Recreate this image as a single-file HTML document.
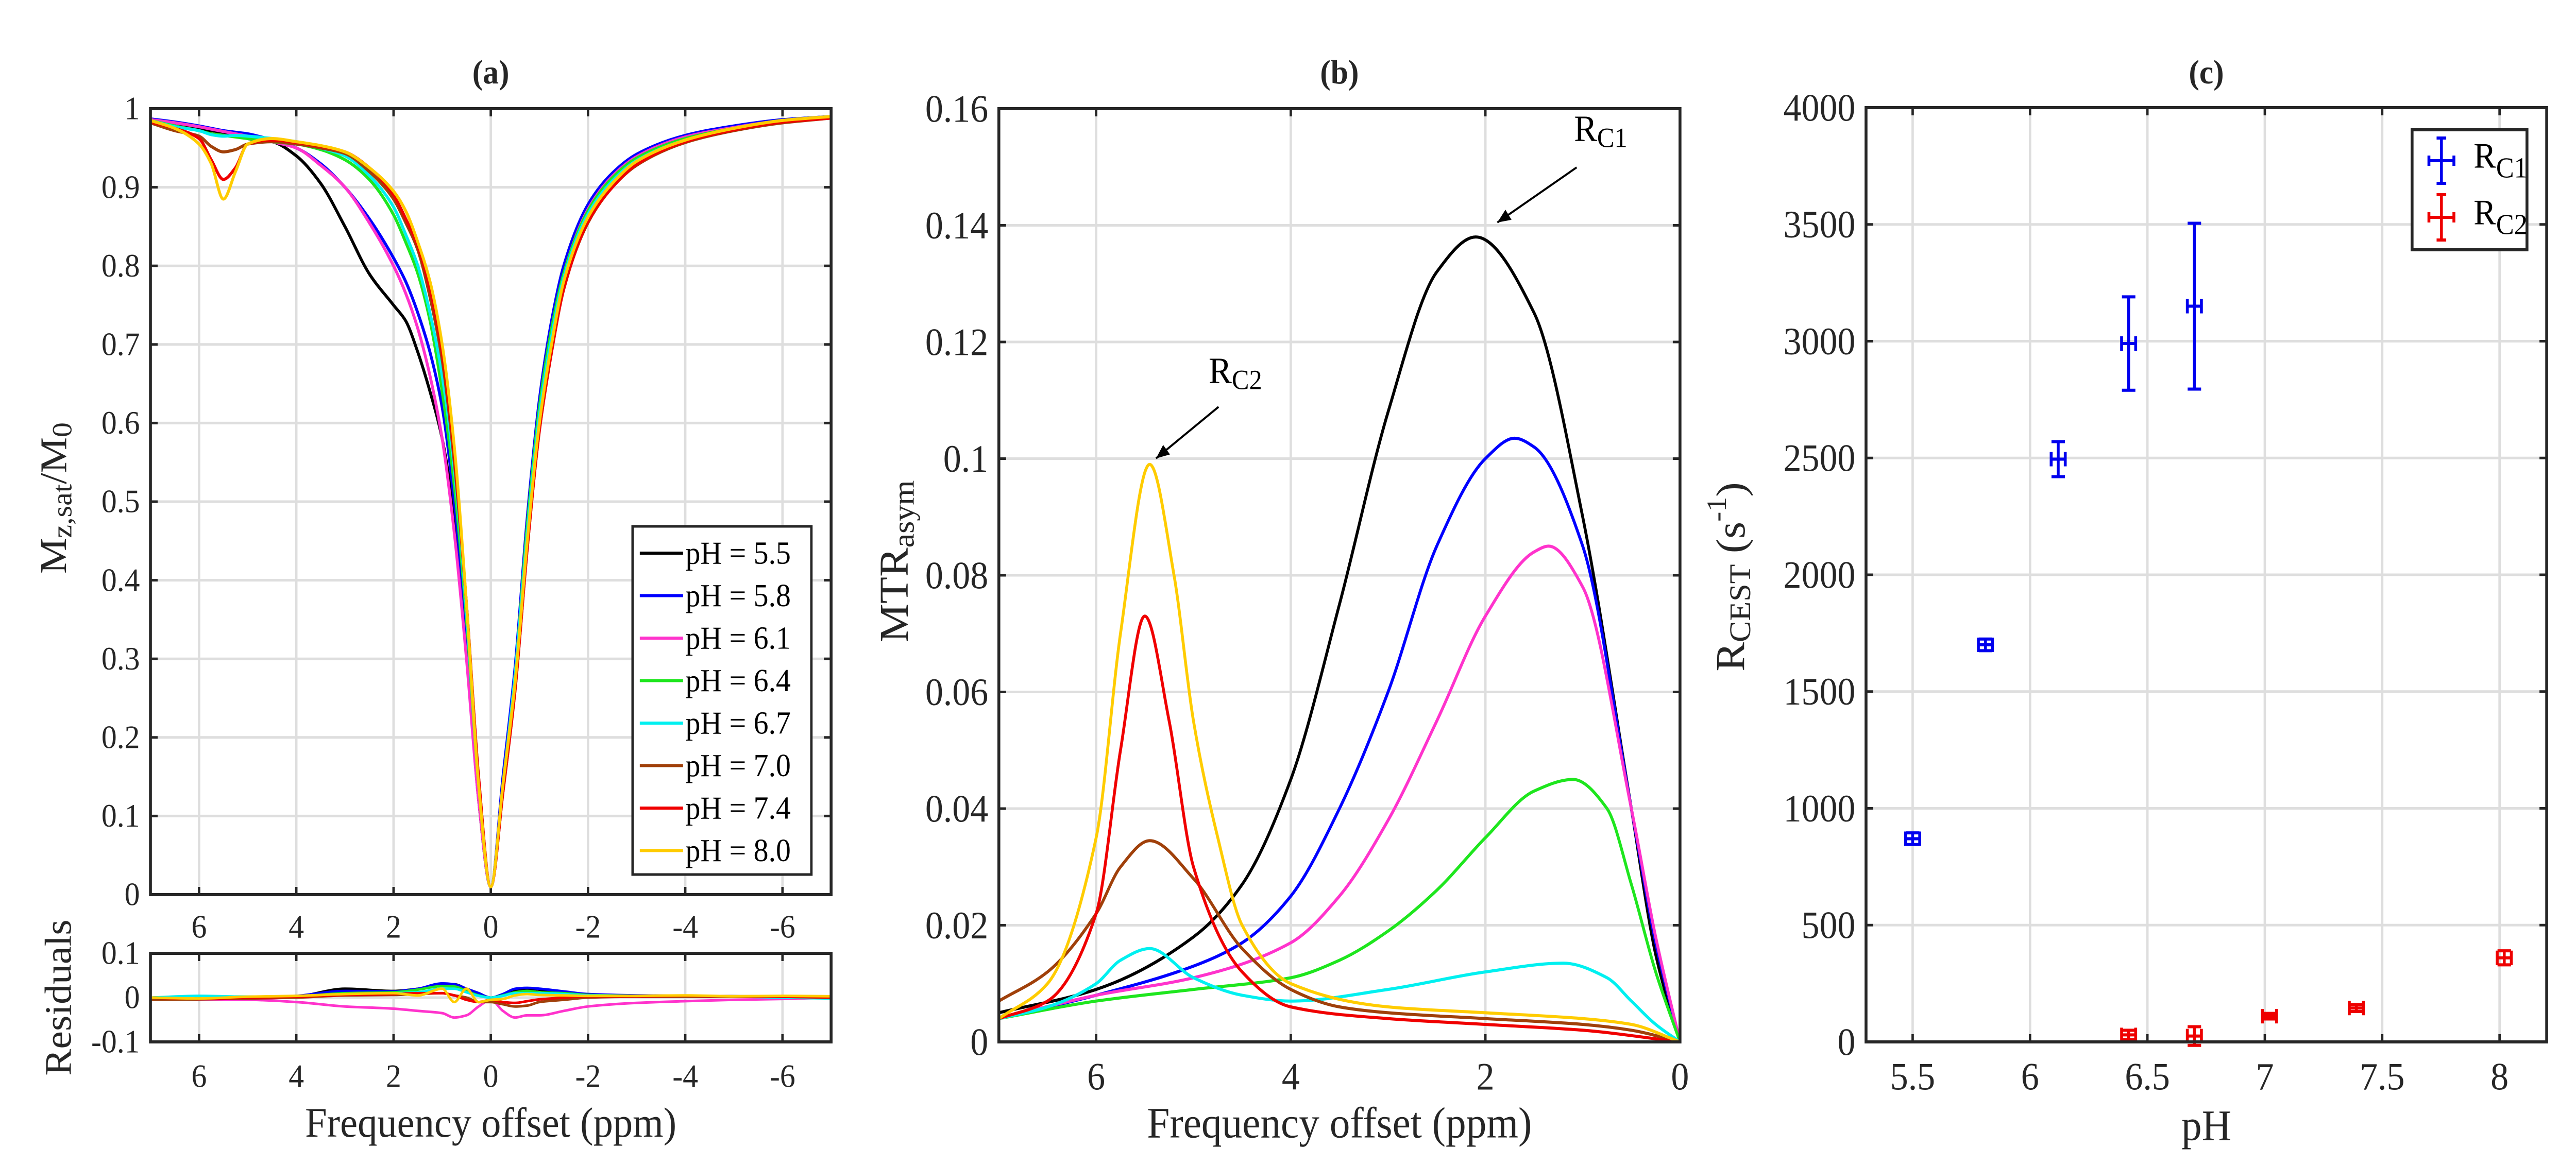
<!DOCTYPE html>
<html><head><meta charset="utf-8"><style>
html,body{margin:0;padding:0;background:#fff;width:100%;height:100%;overflow:hidden;}
svg{display:block;font-family:"Liberation Serif",serif;position:absolute;left:0;top:0;width:100vw;height:100vh;}
</style></head><body>
<svg id="fig" viewBox="0 0 5359 2262" preserveAspectRatio="none" xmlns="http://www.w3.org/2000/svg"></svg>
<script>
// ---------- Panel (a) data: Z-spectra ----------
const zX = [7,6.5,6,5.75,5.5,5.25,5,4.5,4,3.5,3,2.5,2,1.75,1.5,1.25,1,0.75,0.5,0.25,0,-0.25,-0.5,-0.75,-1,-1.25,-1.5,-2,-2.5,-3,-4,-5,-6,-7];
const zLabels = ["pH = 5.5","pH = 5.8","pH = 6.1","pH = 6.4","pH = 6.7","pH = 7.0","pH = 7.4","pH = 8.0"];
const zBlack   = [0.985,0.98,0.975,0.972,0.97,0.967,0.962,0.958,0.94,0.905,0.85,0.79,0.75,0.73,0.69,0.64,0.58,0.48,0.31,0.12,0.01,0.14,0.27,0.46,0.61,0.71,0.785,0.868,0.91,0.937,0.963,0.976,0.985,0.99];
const zBlue    = [0.987,0.983,0.978,0.975,0.972,0.97,0.968,0.96,0.95,0.93,0.9,0.86,0.81,0.78,0.74,0.69,0.62,0.5,0.33,0.13,0.01,0.15,0.29,0.48,0.63,0.73,0.8,0.878,0.918,0.942,0.966,0.978,0.986,0.99];
const zMagenta = [0.986,0.982,0.977,0.974,0.971,0.968,0.965,0.958,0.95,0.928,0.9,0.855,0.8,0.765,0.72,0.66,0.58,0.46,0.3,0.12,0.01,0.14,0.28,0.47,0.62,0.72,0.79,0.872,0.914,0.939,0.964,0.976,0.985,0.99];
const zGreen   = [0.985,0.978,0.972,0.968,0.966,0.964,0.962,0.958,0.955,0.948,0.935,0.91,0.865,0.83,0.79,0.73,0.64,0.52,0.35,0.14,0.01,0.14,0.28,0.47,0.62,0.72,0.79,0.87,0.912,0.937,0.962,0.975,0.985,0.99];
const zCyan    = [0.985,0.977,0.972,0.967,0.965,0.966,0.965,0.962,0.958,0.95,0.94,0.915,0.875,0.84,0.8,0.74,0.66,0.54,0.36,0.14,0.01,0.14,0.28,0.46,0.61,0.71,0.785,0.866,0.908,0.934,0.96,0.974,0.984,0.99];
const zBrown   = [0.982,0.972,0.965,0.952,0.945,0.948,0.955,0.958,0.955,0.95,0.943,0.92,0.885,0.855,0.82,0.76,0.68,0.55,0.37,0.15,0.01,0.13,0.26,0.44,0.59,0.69,0.77,0.855,0.9,0.928,0.957,0.972,0.982,0.988];
const zRed     = [0.983,0.975,0.962,0.935,0.91,0.925,0.955,0.96,0.957,0.952,0.945,0.925,0.89,0.86,0.825,0.77,0.69,0.56,0.37,0.15,0.01,0.13,0.26,0.44,0.59,0.69,0.77,0.856,0.9,0.929,0.958,0.973,0.983,0.988];
const zYellow  = [0.985,0.975,0.955,0.93,0.885,0.92,0.955,0.962,0.958,0.953,0.945,0.925,0.895,0.87,0.83,0.78,0.7,0.57,0.37,0.14,0.01,0.14,0.27,0.45,0.6,0.7,0.78,0.862,0.905,0.933,0.96,0.975,0.985,0.99];

// ---------- Panel (a) residuals ----------
const rX = [7,6,5,4,3,2,1.5,1,0.75,0.5,0.25,0,-0.25,-0.5,-0.75,-1,-1.5,-2,-3,-4,-5,-6,-7];
const rBlack   = [0,0,0,0.003,0.02,0.015,0.02,0.03,0.03,0.02,0.01,0,0.005,0.015,0.02,0.018,0.012,0.006,0.004,0.003,0.003,0.003,0];
const rBlue    = [0,0.002,0,0.004,0.015,0.014,0.02,0.032,0.03,0.02,0.01,0,0.008,0.02,0.022,0.02,0.014,0.008,0.005,0.004,0.003,0.002,0];
const rMagenta = [0,-0.005,-0.005,-0.01,-0.02,-0.025,-0.03,-0.035,-0.045,-0.04,-0.02,-0.005,-0.03,-0.045,-0.04,-0.04,-0.03,-0.02,-0.012,-0.008,-0.005,-0.003,0];
const rGreen   = [0,0.003,0.002,0.003,0.01,0.012,0.018,0.026,0.025,0.015,0.005,0,0.005,0.012,0.015,0.012,0.01,0.006,0.004,0.003,0.003,0.002,0];
const rCyan    = [0,0.004,0.002,0.002,0.008,0.01,0.012,0.02,0.02,0.012,0.004,0,0.004,0.01,0.01,0.01,0.008,0.005,0.004,0.002,0.002,0,-0.002];
const rBrown   = [-0.005,-0.004,-0.002,0,0.005,0.006,0.008,0.01,0.005,0,-0.01,-0.01,-0.015,-0.02,-0.018,-0.01,-0.005,0,0.002,0.002,0.002,0.002,0];
const rRed     = [0,-0.003,0,0.002,0.006,0.008,0.01,0.01,0.005,-0.005,-0.01,-0.005,-0.01,-0.012,-0.008,-0.004,0,0.003,0.003,0.004,0.003,0.002,0];
const rYellow  = [0,-0.002,0.002,0.004,0.008,0.01,0.005,0.02,-0.01,0.02,-0.01,-0.005,-0.003,0.005,0.008,0.006,0.005,0.004,0.004,0.005,0.003,0.004,0.003];

// ---------- Panel (b) data: MTRasym fits ----------
const bBlackX  = [7,6,5,4.5,4,3.5,3,2.5,2.1,1.5,1,0.5,0.25,0];
const bBlackY  = [0.005,0.009,0.018,0.027,0.045,0.075,0.108,0.132,0.138,0.125,0.09,0.04,0.015,0];
const bBlueX   = [7,6,5,4.5,4,3.5,3,2.5,2,1.7,1.5,1,0.5,0.25,0];
const bBlueY   = [0.004,0.008,0.013,0.017,0.025,0.04,0.06,0.085,0.1,0.1035,0.102,0.085,0.04,0.017,0];
const bMagX    = [7,6,5,4,3.5,3,2.5,2,1.5,1.35,1,0.5,0.25,0];
const bMagY    = [0.004,0.008,0.011,0.017,0.025,0.038,0.055,0.073,0.084,0.085,0.078,0.04,0.018,0];
const bGreenX  = [7,6,5,4,3.5,3,2.5,2,1.5,1.1,0.75,0.5,0.25,0];
const bGreenY  = [0.004,0.007,0.009,0.011,0.014,0.019,0.026,0.035,0.043,0.045,0.04,0.027,0.012,0];
const bCyanX   = [7,6.5,6,5.75,5.45,5,4.5,4,3,2,1.2,0.75,0.5,0.25,0];
const bCyanY   = [0.004,0.006,0.01,0.014,0.016,0.011,0.008,0.007,0.009,0.012,0.0135,0.011,0.007,0.003,0];
const bBrownX  = [7,6.5,6,5.75,5.45,5,4.5,4,3.5,3,2,1,0.5,0];
const bBrownY  = [0.007,0.012,0.022,0.03,0.0345,0.028,0.016,0.009,0.006,0.005,0.004,0.003,0.002,0];
const bRedX    = [7,6.5,6,5.75,5.5,5.25,5,4.5,4,3,2,1,0];
const bRedY    = [0.004,0.007,0.022,0.05,0.073,0.055,0.03,0.012,0.006,0.004,0.003,0.002,0];
const bYelX    = [7,6.5,6,5.75,5.45,5.2,5,4.75,4.5,4,3,2,1,0.5,0];
const bYelY    = [0.004,0.01,0.035,0.07,0.099,0.08,0.055,0.035,0.02,0.01,0.006,0.005,0.004,0.003,0];

// ---------- Panel (c) data ----------
const c1pH  = [5.5,5.81,6.12,6.42,6.7];
const c1Val = [870,1700,2495,2990,3150];
const c1Err = [25,25,75,200,355];
const c1XErr= [0.03,0.03,0.03,0.03,0.03];
const c2pH  = [6.42,6.7,7.02,7.39,8.02];
const c2Val = [30,25,110,145,360];
const c2Err = [20,40,12,15,30];
const c2XErr= [0.03,0.03,0.03,0.03,0.03];

const COLORS = ["#000000","#0000ff","#ff33cc","#1ee61e","#00f0f0","#a0400a","#f00000","#ffcc00"];
const NS = "http://www.w3.org/2000/svg";
const svg = document.getElementById('fig');
const AX = "#262626", GRID = "#dedede";

function mk(tag, attrs, parent){
  const e = document.createElementNS(NS, tag);
  for (const k in attrs) e.setAttribute(k, attrs[k]);
  (parent||svg).appendChild(e);
  return e;
}
function lin(d0,d1,r0,r1){ return v => r0 + (v-d0)/(d1-d0)*(r1-r0); }
function smoothPath(pts){
  const n=pts.length, xs=pts.map(p=>p[0]), ys=pts.map(p=>p[1]);
  const d=[], m=new Array(n);
  for(let i=0;i<n-1;i++) d.push((ys[i+1]-ys[i])/(xs[i+1]-xs[i]));
  m[0]=d[0]; m[n-1]=d[n-2];
  for(let i=1;i<n-1;i++){
    if(d[i-1]*d[i]<=0) m[i]=0;
    else { const h0=xs[i]-xs[i-1], h1=xs[i+1]-xs[i]; const w1=2*h1+h0, w2=h1+2*h0; m[i]=(w1+w2)/(w1/d[i-1]+w2/d[i]); }
  }
  let s="M"+xs[0].toFixed(1)+","+ys[0].toFixed(1);
  for(let i=0;i<n-1;i++){
    const h=(xs[i+1]-xs[i])/3;
    s+="C"+(xs[i]+h).toFixed(1)+","+(ys[i]+m[i]*h).toFixed(1)+" "+(xs[i+1]-h).toFixed(1)+","+(ys[i+1]-m[i+1]*h).toFixed(1)+" "+xs[i+1].toFixed(1)+","+ys[i+1].toFixed(1);
  }
  return s;
}
function text(x,y,str,size,opts,name){
  const t = mk('text',{x:x,y:y,'font-size':size,fill:'#262626','text-anchor':(opts&&opts.anchor)||'middle','dominant-baseline':'central'});
  if (opts && opts.bold) t.setAttribute('font-weight','bold');
  if (opts && opts.rotate) t.setAttribute('transform','rotate(-90 '+x+' '+y+')');
  t.textContent = str;
  
  
  return t;
}
function axes(L,T,R,B,xs,xt,ys,yt,xlabFn,ylabFn,fs,name,xlabY){
  const g = mk('g',{});
  
  
  xt.forEach(v=>{ const x=xs(v); if (x>L+3 && x<R-3){ const gl=mk('line',{x1:x,y1:T,x2:x,y2:B,stroke:GRID,'stroke-width':5},g);   }});
  yt.forEach(v=>{ const y=ys(v); if (y>T+3 && y<B-3){ const gl=mk('line',{x1:L,y1:y,x2:R,y2:y,stroke:GRID,'stroke-width':5},g);   }});
  const tl=15;
  xt.forEach(v=>{ const x=xs(v);
    mk('line',{x1:x,y1:B,x2:x,y2:B-tl,stroke:AX,'stroke-width':5},g);
    mk('line',{x1:x,y1:T,x2:x,y2:T+tl,stroke:AX,'stroke-width':5},g);
    text(x,xlabY,xlabFn(v),fs,{},'x-tick-label');
  });
  yt.forEach(v=>{ const y=ys(v);
    mk('line',{x1:L,y1:y,x2:L+tl,y2:y,stroke:AX,'stroke-width':5},g);
    mk('line',{x1:R,y1:y,x2:R-tl,y2:y,stroke:AX,'stroke-width':5},g);
    text(L-22,y,ylabFn(v),fs,{anchor:'end'},'y-tick-label');
  });
  return g;
}
function frame(L,T,R,B,name){
  const r = mk('rect',{x:L,y:T,width:R-L,height:B-T,fill:'none',stroke:AX,'stroke-width':6});
  
  
}
function clip(id,L,T,R,B){
  const cp = mk('clipPath',{id:id});
  mk('rect',{x:L,y:T,width:R-L,height:B-T},cp);
}
function fmt(v){ return String(Math.round(v*100)/100); }

// ===== Panel (a) main =====
const aL=313,aT=211,aR=1729,aB=1737;
const axs = lin(7,-7,aL,aR), ays = lin(0,1,aB,aT);
axes(aL,aT,aR,aB,axs,[6,4,2,0,-2,-4,-6],ays,[0,0.1,0.2,0.3,0.4,0.5,0.6,0.7,0.8,0.9,1],fmt,fmt,64,'z-spectrum-axes',1800);
clip('clipA',aL,aT,aR,aB);
const zSeries=[zBlack,zBlue,zMagenta,zGreen,zCyan,zBrown,zRed,zYellow];
const gA = mk('g',{'clip-path':'url(#clipA)'});
zSeries.forEach((s,i)=>{
  const p = mk('path',{d:smoothPath(zX.map((x,j)=>[axs(x),ays(s[j])])),fill:'none',stroke:COLORS[i],'stroke-width':6,'stroke-linejoin':'round'},gA);
  
  
});
frame(aL,aT,aR,aB,'z-spectrum-frame');
text((aL+aR)/2,140,'(a)',66,{bold:true},'panel-a-title');
(function(){
  const t = mk('text',{x:112,y:967,'font-size':78,fill:'#262626','text-anchor':'middle','dominant-baseline':'central',transform:'rotate(-90 112 967)'});
  
  
  t.innerHTML = 'M<tspan dy="18" font-size="58">z,sat</tspan><tspan dy="-18">/M</tspan><tspan dy="18" font-size="58">0</tspan>';
})();
(function(){
  const lx=1316, ly=1022, lw=372, lh=676;
  const g = mk('g',{});
  
  
  mk('rect',{x:lx,y:ly,width:lw,height:lh,fill:'#fff',stroke:'#262626','stroke-width':5},g);
  zLabels.forEach((lab,i)=>{
    const y = ly+52+i*82.5;
    const l = mk('line',{x1:lx+15,y1:y,x2:lx+105,y2:y,stroke:COLORS[i],'stroke-width':6},g);
    
    
    const t = mk('text',{x:lx+110,y:y,'font-size':62,fill:'#000','dominant-baseline':'central'},g);
    t.textContent = lab;
    
    
  });
})();

// ===== Panel (a) residuals =====
const rT=1851,rB=2023;
const rys = lin(-0.1,0.1,rB,rT);
axes(aL,rT,aR,rB,axs,[6,4,2,0,-2,-4,-6],rys,[-0.1,0,0.1],fmt,fmt,64,'residuals-axes',2090);
clip('clipR',aL,rT,aR,rB);
const rSeries=[rBlack,rBlue,rMagenta,rGreen,rCyan,rBrown,rRed,rYellow];
const gR = mk('g',{'clip-path':'url(#clipR)'});
rSeries.forEach((s,i)=>{
  const p = mk('path',{d:smoothPath(rX.map((x,j)=>[axs(x),rys(s[j])])),fill:'none',stroke:COLORS[i],'stroke-width':5},gR);
  
  
});
frame(aL,rT,aR,rB,'residuals-frame');
text(122,1937,'Residuals',78,{rotate:true},'residuals-y-axis-title');
text((aL+aR)/2,2180,'Frequency offset (ppm)',82,{},'panel-a-x-axis-title');

// ===== Panel (b) =====
const bL=2078,bT=211,bR=3495,bB=2023;
const bxs = lin(7,0,bL,bR), bys = lin(0,0.16,bB,bT);
axes(bL,bT,bR,bB,bxs,[6,4,2,0],bys,[0,0.02,0.04,0.06,0.08,0.1,0.12,0.14,0.16],fmt,fmt,75,'mtr-axes',2090);
clip('clipB',bL,bT,bR,bB);
const gB = mk('g',{'clip-path':'url(#clipB)'});
const bSeries=[[bBlackX,bBlackY],[bBlueX,bBlueY],[bMagX,bMagY],[bGreenX,bGreenY],[bCyanX,bCyanY],[bBrownX,bBrownY],[bRedX,bRedY],[bYelX,bYelY]];
bSeries.forEach((s,i)=>{
  const p = mk('path',{d:smoothPath(s[0].map((x,j)=>[bxs(x),bys(s[1][j])])),fill:'none',stroke:COLORS[i],'stroke-width':6},gB);
  
  
});
frame(bL,bT,bR,bB,'mtr-frame');
text((bL+bR)/2,140,'(b)',66,{bold:true},'panel-b-title');
text((bL+bR)/2,2180,'Frequency offset (ppm)',85,{},'panel-b-x-axis-title');
(function(){
  const t = mk('text',{x:1860,y:1090,'font-size':85,fill:'#262626','text-anchor':'middle','dominant-baseline':'central',transform:'rotate(-90 1860 1090)'});
  
  
  t.innerHTML = 'MTR<tspan dy="20" font-size="62">asym</tspan>';
})();
function annot(lx,ly,sub,x1,y1,x2,y2,name){
  const t = mk('text',{x:lx,y:ly,'font-size':72,fill:'#000','text-anchor':'middle','dominant-baseline':'central'});
  
  
  t.innerHTML = 'R<tspan dy="18" font-size="54">'+sub+'</tspan>';
  const l = mk('line',{x1:x1,y1:y1,x2:x2,y2:y2,stroke:'#000','stroke-width':4});
  
  
  const ang=Math.atan2(y2-y1,x2-x1), a=30, w=0.4;
  const p=[[x2,y2],[x2-a*Math.cos(ang-w),y2-a*Math.sin(ang-w)],[x2-a*Math.cos(ang+w),y2-a*Math.sin(ang+w)]];
  const h = mk('polygon',{points:p.map(q=>q.join(',')).join(' '),fill:'#000'});
  
  
}
annot(3330,250,'C1',3280,325,3115,432,'rc1-annotation');
annot(2570,720,'C2',2535,790,2405,890,'rc2-annotation');

// ===== Panel (c) =====
const cL=3882,cT=209,cR=5298,cB=2023;
const cxs = lin(5.5,8,3979,5200), cys = lin(0,4000,cB,cT);
axes(cL,cT,cR,cB,cxs,[5.5,6,6.5,7,7.5,8],cys,[0,500,1000,1500,2000,2500,3000,3500,4000],fmt,fmt,75,'rcest-axes',2090);
function errbars(xs,ys,ye,xe,color,name){
  const g = mk('g',{});
  
  
  xs.forEach((v,i)=>{
    const x=cxs(v), y=cys(ys[i]), y1=cys(ys[i]-ye[i]), y2=cys(ys[i]+ye[i]);
    const x1=cxs(v-xe[i]), x2=cxs(v+xe[i]), c=14;
    const pt = mk('path',{d:'M'+x+','+y1+'V'+y2+'M'+(x-c)+','+y1+'H'+(x+c)+'M'+(x-c)+','+y2+'H'+(x+c)+
      'M'+x1+','+y+'H'+x2+'M'+x1+','+(y-c)+'V'+(y+c)+'M'+x2+','+(y-c)+'V'+(y+c),stroke:color,'stroke-width':6,fill:'none'},g);
    
    
  });
}
errbars(c1pH,c1Val,c1Err,c1XErr,'#0000ee','rc1-series');
errbars(c2pH,c2Val,c2Err,c2XErr,'#ee0000','rc2-series');
frame(cL,cT,cR,cB,'rcest-frame');
text((cL+cR)/2,140,'(c)',66,{bold:true},'panel-c-title');
text((cL+cR)/2,2185,'pH',85,{},'panel-c-x-axis-title');
(function(){
  const t = mk('text',{x:3600,y:1120,'font-size':85,fill:'#262626','text-anchor':'middle','dominant-baseline':'central',transform:'rotate(-90 3600 1120)'});
  
  
  t.innerHTML = 'R<tspan dy="20" font-size="62">CEST</tspan><tspan dy="-20"> (s</tspan><tspan dy="-28" font-size="58">-1</tspan><tspan dy="28">)</tspan>';
})();
(function(){
  const lx=5018, ly=252, lw=239, lh=233;
  const g = mk('g',{});
  
  
  mk('rect',{x:lx,y:ly,width:lw,height:lh,fill:'#fff',stroke:'#262626','stroke-width':6},g);
  [['#0000ee','C1'],['#ee0000','C2']].forEach((e,i)=>{
    const cy = ly+ (i===0?60:170), cx = lx+61;
    const p = mk('path',{d:'M'+cx+','+(cy-44)+'V'+(cy+44)+'M'+(cx-10)+','+(cy-44)+'H'+(cx+10)+'M'+(cx-10)+','+(cy+44)+'H'+(cx+10)+
      'M'+(cx-26)+','+cy+'H'+(cx+26)+'M'+(cx-26)+','+(cy-10)+'V'+(cy+10)+'M'+(cx+26)+','+(cy-10)+'V'+(cy+10),stroke:e[0],'stroke-width':6,fill:'none'},g);
    
    
    const t = mk('text',{x:lx+128,y:cy-10,'font-size':70,fill:'#000','dominant-baseline':'central'},g);
    
    
    t.innerHTML = 'R<tspan dy="24" font-size="56">'+e[1]+'</tspan>';
  });
})();
</script>
</body></html>
